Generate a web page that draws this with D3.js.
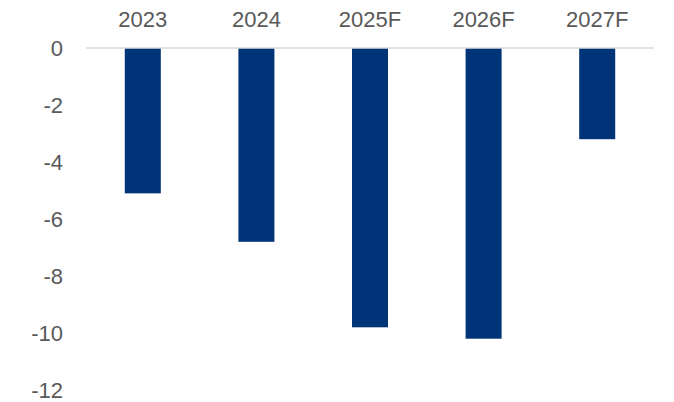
<!DOCTYPE html>
<html lang="en">
<head>
    <meta charset="UTF-8"/>
    <title>Balance chart</title>
    <script src="https://d3js.org/d3.v7.min.js"></script>
    <style>
        body { margin: 0; background: #fff; }
        text { font-family: "Liberation Sans", Arial, sans-serif; fill: #595959; }
    </style>
</head>
<body>
<script>
    // data
    var years = ["2023", "2024", "2025F", "2026F", "2027F"];
    var values = [-5.1, -6.8, -9.8, -10.2, -3.2];
    var yTicks = [0, -2, -4, -6, -8, -10, -12];

    var w = 674;
    var h = 402;
    var plotLeft = 86, plotRight = 654, plotTop = 48, plotBottom = 390;

    var svg = d3.select("body")
                .append("svg")
                .attr("width", w)
                .attr("height", h);

    var xScale = d3.scaleBand()
                    .domain(years)
                    .range([plotLeft, plotRight])
                    .paddingInner(0.683)
                    .paddingOuter(0.3415);

    var yScale = d3.scaleLinear()
                    .domain([-12, 0])
                    .range([plotBottom, plotTop]);

    // bars
    svg.selectAll("rect")
        .data(values)
        .enter()
        .append("rect")
        .attr("x", function(d, i) { return xScale(years[i]); })
        .attr("y", yScale(0))
        .attr("width", xScale.bandwidth())
        .attr("height", function(d) { return yScale(d) - yScale(0); })
        .style("fill", "#003478");

    // zero line
    svg.append("line")
        .attr("x1", plotLeft)
        .attr("x2", plotRight)
        .attr("y1", yScale(0))
        .attr("y2", yScale(0))
        .style("stroke", "#d9d9d9")
        .style("stroke-width", 1.5);

    // y tick labels
    svg.selectAll(".y_label")
        .data(yTicks)
        .enter()
        .append("text")
        .attr("class", "y_label")
        .attr("text-anchor", "end")
        .attr("x", 63)
        .attr("y", function(d) { return yScale(d); })
        .attr("dy", "0.35em")
        .style("font-size", "22px")
        .text(function(d) { return d; });

    // category labels along the top
    svg.selectAll(".x_label")
        .data(years)
        .enter()
        .append("text")
        .attr("class", "x_label")
        .attr("text-anchor", "middle")
        .attr("x", function(d) { return xScale(d) + xScale.bandwidth() / 2; })
        .attr("y", 19)
        .attr("dy", "0.35em")
        .style("font-size", "22px")
        .text(function(d) { return d; });
</script>
</body>
</html>
